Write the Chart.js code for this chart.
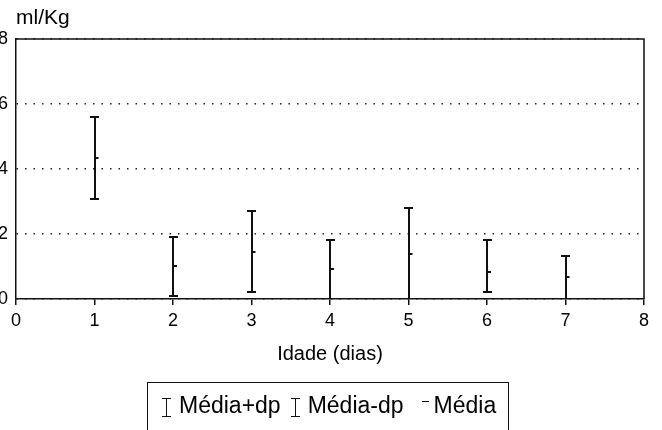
<!DOCTYPE html>
<html><head><meta charset="utf-8">
<script src="https://cdn.jsdelivr.net/npm/chart.js@4.4.0/dist/chart.umd.min.js"></script>
<style>html,body{margin:0;padding:0;background:#fff;} #wrap{position:relative;width:662px;height:430px;}</style>
</head><body><div id="wrap"><canvas id="c" width="662" height="430"></canvas></div>
<script>
// ---- data ----
const dias = [1, 2, 3, 4, 5, 6, 7];
const mediaMaisDp = [5.59, 1.91, 2.71, 1.82, 2.81, 1.82, 1.33];
const mediaMenosDp = [3.09, 0.10, 0.21, 0, 0, 0.22, 0];
const media = [4.33, 1.02, 1.46, 0.92, 1.38, 0.82, 0.67];
const xTicks = [0, 1, 2, 3, 4, 5, 6, 7, 8];
const yTicks = [0, 2, 4, 6, 8];
const seriesNames = ['Média+dp', 'Média-dp', 'Média'];
const yTitle = 'ml/Kg';
const xTitle = 'Idade (dias)';

const FONT = "'Liberation Sans', Arial, Helvetica, sans-serif";
const INK = '#111';
const LEG_FONT = "23px " + FONT;

function mk(w, h, draw) {
  const c = document.createElement('canvas');
  c.width = w; c.height = h;
  const g = c.getContext('2d');
  g.fillStyle = INK;
  draw(g);
  return c;
}
// marker glyphs
const capMark = mk(9, 2, g => g.fillRect(0, 0, 9, 2));
const meanMark = mk(10, 2, g => g.fillRect(5, 0, 4, 2));

const pts = arr => dias.map((d, i) => ({x: d, y: arr[i]}));

const stems = {
  id: 'stems',
  beforeDatasetsDraw(chart) {
    const {ctx, scales: {x, y}} = chart;
    ctx.save();
    ctx.strokeStyle = INK;
    ctx.lineWidth = 2;
    dias.forEach((d, i) => {
      const px = Math.round(x.getPixelForValue(d));
      ctx.beginPath();
      ctx.moveTo(px, y.getPixelForValue(mediaMaisDp[i]));
      ctx.lineTo(px, y.getPixelForValue(mediaMenosDp[i]));
      ctx.stroke();
    });
    ctx.restore();
  }
};

// plot frame (top + right) and the boxed legend of the original figure
const frame = {
  id: 'frame',
  afterDraw(chart) {
    const {ctx, chartArea: a} = chart;
    ctx.save();
    ctx.strokeStyle = INK;
    ctx.lineWidth = 1.5;
    ctx.beginPath();
    ctx.moveTo(a.left, a.top);
    ctx.lineTo(a.right, a.top);
    ctx.lineTo(a.right, a.bottom);
    ctx.stroke();

    // legend
    ctx.font = LEG_FONT;
    ctx.fillStyle = '#000';
    ctx.textBaseline = 'middle';
    ctx.textAlign = 'left';
    const w = seriesNames.map(t => ctx.measureText(t).width);
    const boxW = 19 + 13 + w[0] + 14 + 13 + w[1] + 30 + w[2] + 12;
    const boxL = Math.round((a.left + a.right) / 2 - 2 - boxW / 2);
    const boxT = a.bottom + 83;
    const ty = boxT + 25;
    ctx.lineWidth = 1;
    ctx.strokeRect(boxL + 0.5, boxT + 0.5, Math.round(boxW), 80);

    const drawI = (cx) => {
      cx = Math.round(cx);
      ctx.fillStyle = INK;
      ctx.fillRect(cx - 4, ty - 9, 9, 1);
      ctx.fillRect(cx, ty - 9, 1, 19);
      ctx.fillRect(cx - 4, ty + 9, 9, 1);
      ctx.fillStyle = '#000';
    };
    let x = boxL + 19;
    drawI(x);
    x += 13;
    ctx.fillText(seriesNames[0], x, ty);
    x += w[0] + 14;
    drawI(x);
    x += 13;
    ctx.fillText(seriesNames[1], x, ty);
    x += w[1] + 30;
    ctx.fillRect(Math.round(x - 12), Math.round(ty - 6), 7, 1);
    ctx.fillText(seriesNames[2], x, ty);
    ctx.restore();
  }
};

new Chart(document.getElementById('c'), {
  type: 'scatter',
  data: {
    datasets: [
      {label: seriesNames[0], data: pts(mediaMaisDp), pointStyle: capMark, pointRadius: 5, showLine: false},
      {label: seriesNames[1], data: pts(mediaMenosDp), pointStyle: capMark, pointRadius: 5, showLine: false},
      {label: seriesNames[2], data: pts(media), pointStyle: meanMark, pointRadius: 5, showLine: false}
    ]
  },
  options: {
    responsive: false,
    animation: false,
    events: [],
    layout: {padding: {left: 0, right: 18, top: 0, bottom: 49.5}},
    plugins: {
      tooltip: {enabled: false},
      legend: {display: false},
      title: {
        display: true, text: yTitle, align: 'start', fullSize: false, color: '#000',
        font: {family: FONT, size: 21, weight: 'normal'},
        padding: {top: 5.4, bottom: 8.4}
      }
    },
    scales: {
      x: {
        type: 'linear', min: 0, max: 8,
        afterBuildTicks: s => { s.ticks = xTicks.map(v => ({value: v})); },
        ticks: {color: '#000', font: {family: FONT, size: 18}, padding: 5, maxRotation: 0},
        grid: {drawOnChartArea: false, drawTicks: true, tickLength: 6, color: INK, lineWidth: 1.5},
        border: {display: true, color: INK, width: 1.5},
        title: {display: true, text: xTitle, color: '#000', font: {family: FONT, size: 20}, padding: {top: 4, bottom: 14}},
        afterFit: s => { s.height = 81.5; }
      },
      y: {
        type: 'linear', min: 0, max: 8,
        afterBuildTicks: s => { s.ticks = yTicks.map(v => ({value: v})); },
        ticks: {color: '#000', font: {family: FONT, size: 18}, padding: 8},
        grid: {drawTicks: false, color: '#222', lineWidth: 1.5},
        border: {display: true, color: INK, width: 1.5, dash: [1.5, 7]},
        afterFit: s => { s.width = 16; }
      }
    }
  },
  plugins: [stems, frame]
});
</script>
</body></html>
